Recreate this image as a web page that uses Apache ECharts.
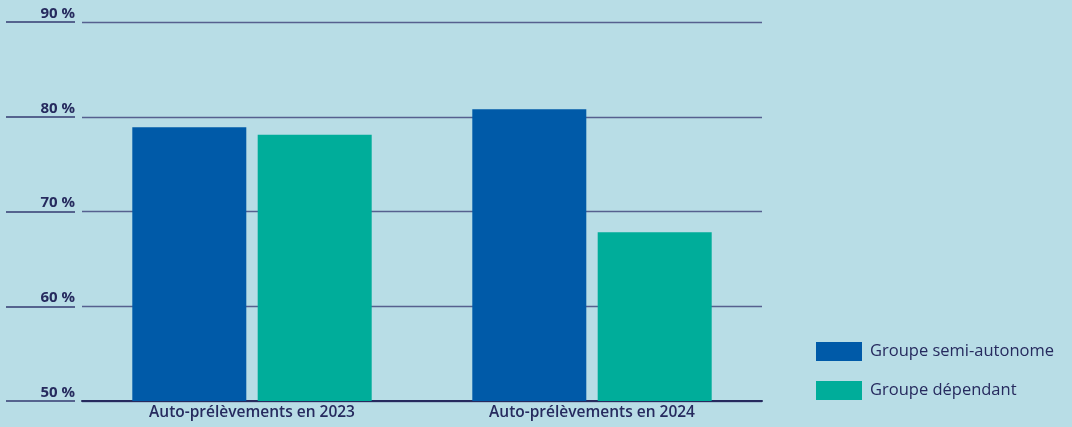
<!DOCTYPE html>
<html>
<head>
<meta charset="utf-8">
<script src="https://cdn.jsdelivr.net/npm/echarts@6/dist/echarts.min.js"></script>
<style>
html,body{margin:0;padding:0;background:#b8dde6;}
#c{width:1072px;height:427px;}
</style>
</head>
<body>
<div id="c"></div>
<script>
const categories = ['Auto-prélèvements en 2023', 'Auto-prélèvements en 2024'];
const seriesNames = ['Groupe semi-autonome', 'Groupe dépendant'];
const semiAutonome = [78.9, 80.8];
const dependant = [78.1, 67.8];
const yTicks = [50, 60, 70, 80, 90];

const navy = '#262a5e';
const chart = echarts.init(document.getElementById('c'));
chart.setOption({
  backgroundColor: '#b8dde6',
  textStyle: { fontFamily: 'Open Sans' },
  grid: { left: 82, right: 310, top: 22, bottom: 26, containLabel: false },
  legend: {
    orient: 'vertical',
    left: 816,
    top: 342,
    padding: 0,
    itemWidth: 46,
    itemHeight: 19,
    itemGap: 20,
    icon: 'rect',
    textStyle: { color: navy, fontSize: 16.5, fontFamily: 'Open Sans', padding: [0, 0, 0, 3] },
    data: seriesNames
  },
  xAxis: {
    type: 'category',
    data: categories,
    axisLine: { show: true, lineStyle: { color: navy, width: 2 } },
    axisTick: { show: false },
    axisLabel: { color: navy, fontSize: 15.5, fontWeight: 600, margin: 4, fontFamily: 'Open Sans' }
  },
  yAxis: {
    type: 'value',
    min: yTicks[0],
    max: yTicks[yTicks.length - 1],
    interval: 10,
    offset: 7,
    axisLine: { show: false },
    axisTick: { show: true, length: 69, lineStyle: { color: '#343a70', width: 1.6 } },
    splitLine: { show: true, lineStyle: { color: '#56608f', width: 1.3 } },
    axisLabel: {
      color: navy, fontSize: 15, fontWeight: 700, margin: 0,
      verticalAlign: 'bottom', padding: [0, 0, 1, 0],
      formatter: v => v + ' %'
    }
  },
  series: [
    {
      name: seriesNames[0], type: 'bar', data: semiAutonome,
      barWidth: 114, barGap: '10%',
      itemStyle: { color: '#005aa8' }, z: 3
    },
    {
      name: seriesNames[1], type: 'bar', data: dependant,
      barWidth: 114,
      itemStyle: { color: '#00ad9a' }, z: 3
    }
  ]
});
</script>
</body>
</html>
